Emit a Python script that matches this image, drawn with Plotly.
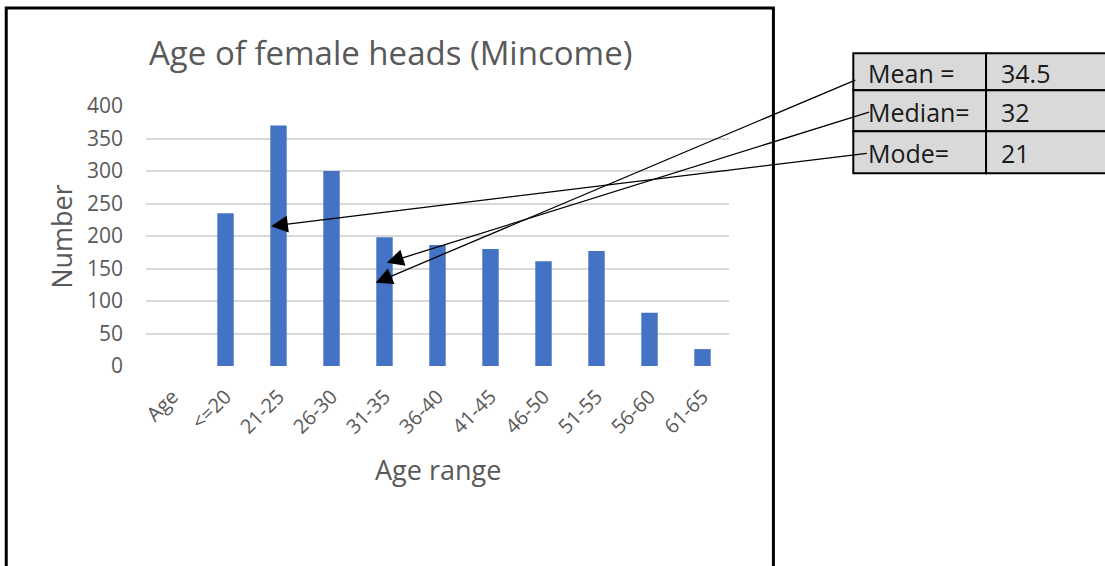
import plotly.graph_objects as go

# Age-range categories and head counts
age_ranges = ["Age", "<=20", "21-25", "26-30", "31-35", "36-40",
              "41-45", "46-50", "51-55", "56-60", "61-65"]
counts = [0, 235, 370, 300, 198, 186, 180, 161, 177, 82, 26]

# Summary statistics shown in the side table
stat_labels = ["Mean =", "Median=", "Mode="]
stat_values = ["34.5", "32", "21"]

W, H = 1105, 566
L, R, T, B = 145.5, 729.5, 105.7, 366.0
FONT = "Open Sans"
GREY = "#595959"


def px(x):
    return (x - L) / (R - L)


def py(y):
    return (B - y) / (B - T)


fig = go.Figure(go.Bar(
    x=age_ranges, y=counts, marker=dict(color="#4472C4", line=dict(width=0)),
))

shapes = []
annotations = []

# Outer chart frame
shapes.append(dict(type="rect", xref="paper", yref="paper",
                   x0=px(5.5), x1=px(774), y0=py(575), y1=py(7.5),
                   line=dict(color="black", width=3), fillcolor="rgba(0,0,0,0)",
                   layer="above"))

# Statistics table
row_edges = [53, 90, 131, 173]
col_edges = [854, 987, 1115]
for i in range(len(stat_labels)):
    for j in range(2):
        shapes.append(dict(type="rect", xref="paper", yref="paper",
                           x0=px(col_edges[j]), x1=px(col_edges[j + 1]),
                           y0=py(row_edges[i + 1]), y1=py(row_edges[i]),
                           line=dict(color="black", width=2), fillcolor="#d9d9d9",
                           layer="above"))
    yc = (row_edges[i] + row_edges[i + 1]) / 2 + 1
    annotations.append(dict(xref="paper", yref="paper", x=px(867), y=py(yc),
                            text=stat_labels[i], showarrow=False, xanchor="left",
                            yanchor="middle", font=dict(family=FONT, size=25, color="#1a1a1a")))
    annotations.append(dict(xref="paper", yref="paper", x=px(1000), y=py(yc),
                            text=stat_values[i], showarrow=False, xanchor="left",
                            yanchor="middle", font=dict(family=FONT, size=25, color="#1a1a1a")))

# Arrows from the table rows into the bars
arrows = [((856.7, 79.3), (375.5, 282.7)),
          ((870.5, 111.5), (386.7, 262.7)),
          ((868.0, 153.0), (270.7, 226.0))]
for (tx, ty), (hx, hy) in arrows:
    annotations.append(dict(xref="paper", yref="paper", x=px(hx), y=py(hy),
                            axref="pixel", ayref="pixel", ax=tx - hx, ay=ty - hy,
                            text="", showarrow=True, arrowhead=2, arrowsize=2.6,
                            arrowwidth=1.3, arrowcolor="black", standoff=0))

# Chart title and axis titles
annotations.append(dict(xref="paper", yref="paper", x=px(390), y=py(52),
                        text="Age of female heads (Mincome)", showarrow=False,
                        xanchor="center", yanchor="middle",
                        font=dict(family=FONT, size=33, color=GREY)))
annotations.append(dict(xref="paper", yref="paper", x=px(437.5), y=py(470),
                        text="Age range", showarrow=False,
                        xanchor="center", yanchor="middle",
                        font=dict(family=FONT, size=27, color=GREY)))
annotations.append(dict(xref="paper", yref="paper", x=px(61), y=py(236),
                        text="Number", showarrow=False, textangle=-90,
                        xanchor="center", yanchor="middle",
                        font=dict(family=FONT, size=27, color=GREY)))

fig.update_layout(
    width=W, height=H,
    margin=dict(l=L, r=W - R, t=T, b=H - B, pad=0),
    paper_bgcolor="white", plot_bgcolor="white",
    bargap=0.69, showlegend=False,
    shapes=shapes, annotations=annotations,
    xaxis=dict(type="category", showgrid=False, zeroline=False, showline=False,
               tickangle=-45, ticks="", ticklabelstandoff=14,
               tickfont=dict(family=FONT, size=20, color=GREY)),
    yaxis=dict(range=[0, 400], tickvals=list(range(0, 401, 50)),
               showgrid=True, gridcolor="#d9d9d9", gridwidth=1.5,
               zeroline=False, showline=False, ticks="", ticklabelstandoff=22,
               tickfont=dict(family=FONT, size=21, color=GREY)),
)

fig.write_html("out.html")
